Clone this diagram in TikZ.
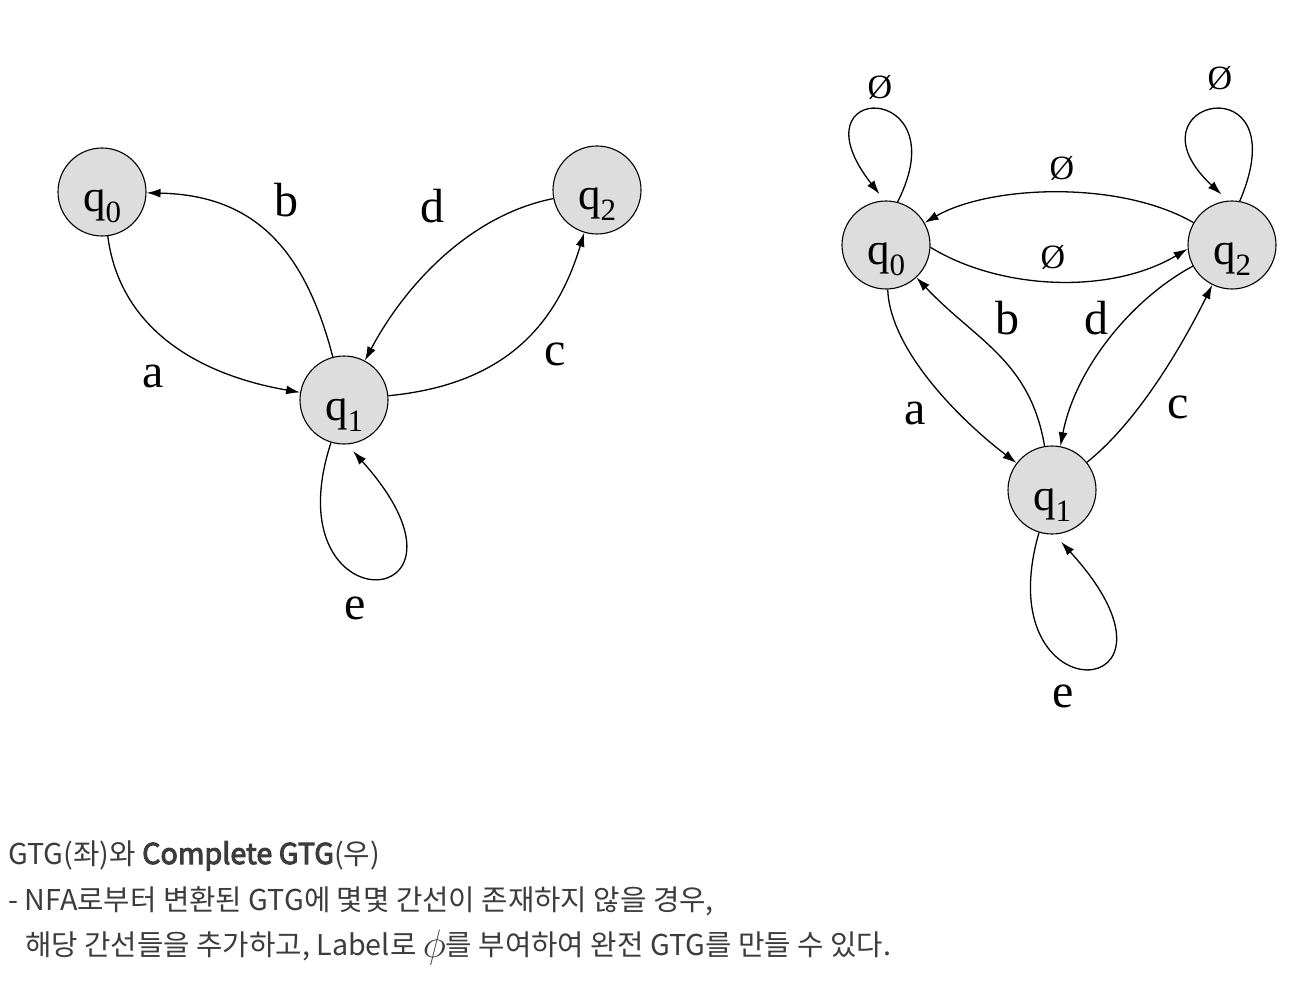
\documentclass[tikz,border=0pt]{standalone}
\usepackage{fontspec}
\usepackage{graphicx}
\setmainfont{Liberation Serif}
\newfontfamily\kofont{Noto Sans CJK KR}
\newfontfamily\kofontsb{Noto Sans CJK KR}[FakeBold=3.5]
\usepackage{tikz}
\usetikzlibrary{arrows.meta,positioning}
\definecolor{stategray}{RGB}{221, 221, 221}
\definecolor{captext}{RGB}{60, 60, 60}
\newcommand{\qsub}[1]{q\raisebox{-11pt}{\fontsize{31}{31}\selectfont #1}}
\tikzstyle{state} = [circle, draw=black, line width=1.1pt, fill=stategray, text=black, inner sep=0pt, minimum size=88pt, text height=40pt, text depth=0pt, font=\fontsize{45}{45}\selectfont]
\tikzstyle{textonly} = [draw=none, fill=none, inner sep=0pt, text centered, font=\fontsize{48}{48}\selectfont]
\tikzstyle{nullset} = [draw=none, fill=none, inner sep=0pt, text centered, font=\fontsize{34}{34}\selectfont]
\tikzstyle{caption} = [draw=none, inner sep=0pt, anchor=base west, text=captext, font=\kofont\fontsize{28.7}{28.7}\selectfont]
\tikzstyle{tedge}  = [draw, line width=1.3pt, -{Latex[length=14pt,width=9pt]}]

\begin{document}
\begin{tikzpicture}[x=1pt, y=1pt]
\useasboundingbox (0,0) rectangle (1314,-984);

% GTG (left) =============================
\node[state] (q0) at (102,-192) {\qsub{0}};
\node[state] (q1) at (344,-400) {\qsub{1}};
\node[state] (q2) at (597,-190) {\qsub{2}};

\node[textonly] (la) at (153,-376) {a};
\node[textonly] (lb) at (286,-200) {b};
\node[textonly] (lc) at (555,-354) {c};
\node[textonly] (ld) at (432,-206) {d};
\node[textonly] (le) at (355,-608) {e};

% edges
\path[tedge] (q0) .. controls (120,-330) and (200,-375) .. (q1);
\path[tedge] (q1) .. controls (305,-250) and (255,-195) .. (q0);
\path[tedge] (q2) .. controls (470,-215) and (405,-285) .. (q1);
\path[tedge] (q1) .. controls (500,-385) and (555,-330) .. (q2);
\path[tedge, shorten >=9pt] (q1.253) .. controls (270,-630) and (500,-615) .. (q1.274);

% Complete GTG (right) =============================
\node[state] (r0) at (886,-245) {\qsub{0}};
\node[state] (r1) at (1052,-490) {\qsub{1}};
\node[state] (r2) at (1232,-245) {\qsub{2}};

\node[textonly] (ra) at (915,-413) {a};
\node[textonly] (rb) at (1007,-318) {b};
\node[textonly] (rc) at (1178,-407) {c};
\node[textonly] (rd) at (1096,-318) {d};
\node[textonly] (re) at (1063,-696) {e};
\node[nullset] (n00) at (880,-87) {Ø};
\node[nullset] (n22) at (1220,-78) {Ø};
\node[nullset] (n20) at (1062,-168) {Ø};
\node[nullset] (n02) at (1053,-257) {Ø};

% edges
\path[tedge] (r0) .. controls (890,-350) and (960,-420) .. (r1);
\path[tedge] (r1) .. controls (1030,-360) and (975,-340) .. (r0);
\path[tedge] (r2) .. controls (1130,-300) and (1075,-370) .. (r1);
\path[tedge] (r1) .. controls (1140,-420) and (1185,-340) .. (r2);
\path[tedge] (r2) .. controls (1120,-180) and (990,-185) .. (r0);
\path[tedge] (r0.-3) .. controls (1000,-290) and (1110,-295) .. (r2.185);
\path[tedge, shorten >=8pt] (r0.75) .. controls (960,-80) and (790,-80) .. (r0.92);
\path[tedge, shorten >=9pt] (r2.80) .. controls (1300,-60) and (1120,-100) .. (r2.95);
\path[tedge, shorten >=10pt] (r1.253) .. controls (985,-720) and (1210,-705) .. (r1.273);

% caption
\node[caption] (cap1) at (8,-864) {GTG(좌)와 {\kofontsb Complete GTG}(우)};
\node[caption] (cap2) at (8,-910) {- NFA로부터 변환된 GTG에 몇몇 간선이 존재하지 않을 경우,};
\node[caption] (cap3) at (25,-955) {해당 간선들을 추가하고, Label로 \raisebox{-2pt}{\scalebox{1.6}{$\phi$}}를 부여하여 완전 GTG를 만들 수 있다.};

\end{tikzpicture}
\end{document}
